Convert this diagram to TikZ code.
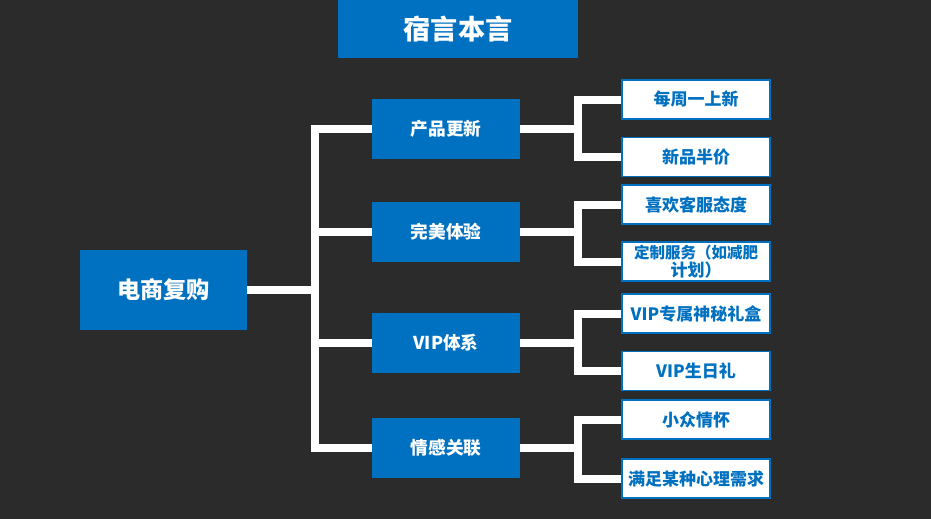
\documentclass[tikz,border=0pt]{standalone}
\usepackage{fontspec}
\setmainfont{Noto Sans CJK SC}
\definecolor{bgdark}{HTML}{2B2B2B}
\definecolor{boxblue}{HTML}{0070C0}
\begin{document}
\begin{tikzpicture}[x=1pt, y=-1pt,
        bluebox/.style={fill=boxblue, text=white, inner sep=0pt, minimum width=148pt, minimum height=60pt, font=\fontsize{17.7}{20}\selectfont\bfseries},
        leafbox/.style={draw=boxblue, line width=1.5pt, fill=white, text=boxblue, inner sep=0pt, align=center, minimum width=148pt, minimum height=39pt, font=\fontsize{17}{18}\selectfont\bfseries},
        link/.style={draw=white, line width=8pt}]
        \fill[bgdark] (0,0) rectangle (931,519);
        \useasboundingbox (0,0) rectangle (931,519);

        \node[bluebox, minimum width=240pt, minimum height=58pt, font=\fontsize{27.2}{30}\selectfont\bfseries] (title) at (458,29) {宿言本言};
        \node[bluebox, minimum width=167pt, minimum height=80pt, font=\fontsize{23.2}{26}\selectfont\bfseries] (main) at (163.5,290) {电商复购};

        \foreach \n/\y/\t in {p1/128.5/产品更新, p2/232/完美体验, p3/343/VIP体系, p4/448/情感关联}
        {
            \node[bluebox] (\n) at (446,\y) {\t};
        }

        \foreach \n/\y/\t in {l1/99.5/每周一上新, l2/157/新品半价, l3/204.5/喜欢客服态度, l4/261.5/{\fontsize{15.5}{17}\selectfont 定制服务（如减肥\\计划）}, l5/313.5/VIP专属神秘礼盒, l6/371/VIP生日礼, l7/419.5/小众情怀, l8/478.5/满足某种心理需求}
        {
            \node[leafbox] (\n) at (696,\y) {\t};
        }

        \foreach \p in {p1,p2,p3,p4}
        {
            \draw[link] (main.east) -| ([xshift=-57pt]\p.west) -- (\p.west);
        }

        \foreach \p/\a/\b in {p1/l1/l2, p2/l3/l4, p3/l5/l6, p4/l7/l8}
        {
            \draw[link] (\p.east) -| ([xshift=-43pt]\a.west) -- (\a.west);
            \draw[link] (\p.east) -| ([xshift=-43pt]\b.west) -- (\b.west);
        }
    \end{tikzpicture}
\end{document}
